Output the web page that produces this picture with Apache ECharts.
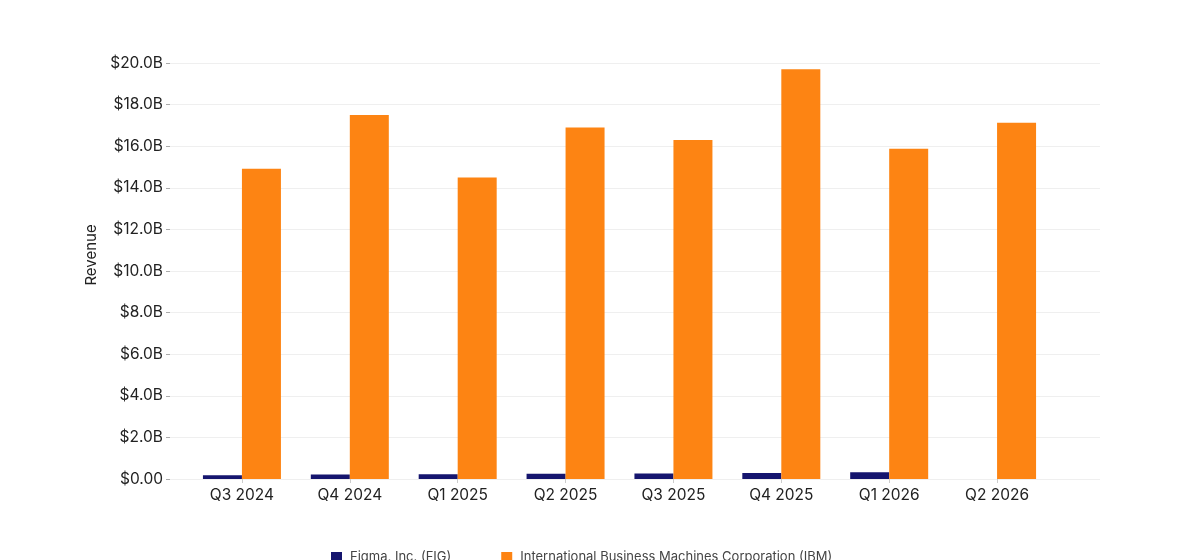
<!DOCTYPE html>
<html>
<head>
<meta charset="utf-8">
<script src="https://cdn.jsdelivr.net/npm/echarts@6/dist/echarts.min.js"></script>
<style>
  html, body { margin: 0; padding: 0; background: #fff; }
  #chart { width: 1200px; height: 560px; }
</style>
</head>
<body>
<div id="chart"></div>
<script>
// quarters on the x axis
var quarters = ['Q3 2024', 'Q4 2024', 'Q1 2025', 'Q2 2025', 'Q3 2025', 'Q4 2025', 'Q1 2026', 'Q2 2026'];
// revenue in billions of dollars
var figmaRevenue = [0.18, 0.22, 0.23, 0.25, 0.27, 0.29, 0.32, null];
var ibmRevenue = [14.92, 17.5, 14.5, 16.9, 16.3, 19.7, 15.88, 17.13];
var seriesNames = ['Figma, Inc. (FIG)', 'International Business Machines Corporation (IBM)'];

var FONT = 'Inter, "Noto Sans", sans-serif';

function fmtMoney(v) {
    if (v === 0) return '$0.00';
    return '$' + v.toFixed(1) + 'B';
}

var chart = echarts.init(document.getElementById('chart'));
chart.setOption({
    backgroundColor: '#fff',
    textStyle: { fontFamily: FONT },
    legend: {
        data: seriesNames,
        bottom: -9,
        left: 326,
        itemWidth: 11,
        itemHeight: 11,
        itemGap: 50,
        icon: 'rect',
        textStyle: { fontFamily: FONT, fontSize: 13, color: '#444', padding: [0, 0, 0, 3] }
    },
    // grid 0 carries the wide gridlines and y labels, grid 1 carries the bars
    grid: [
        { left: 170, right: 100, top: 63, bottom: 81 },
        { left: 188, right: 149, top: 63, bottom: 81 }
    ],
    xAxis: [
        { gridIndex: 0, type: 'category', data: quarters, show: false },
        {
            gridIndex: 1,
            type: 'category',
            data: quarters,
            axisLine: { show: false },
            axisTick: { show: true, alignWithLabel: true, length: 4, lineStyle: { color: '#ccc' } },
            axisLabel: { color: '#222', fontSize: 15.5, margin: 8, fontFamily: FONT }
        }
    ],
    yAxis: [
        {
            gridIndex: 0,
            type: 'value',
            min: 0,
            max: 20,
            interval: 2,
            name: 'Revenue',
            nameLocation: 'middle',
            nameGap: 69,
            nameTextStyle: { color: '#222', fontSize: 15, fontFamily: FONT, padding: [0, 0, 0, 32] },
            axisLine: { show: false },
            axisTick: { show: true, length: 4, lineStyle: { color: '#aaa' } },
            axisLabel: { color: '#222', fontSize: 15.5, margin: 7, fontFamily: FONT, formatter: fmtMoney },
            splitLine: { lineStyle: { color: '#efefef', width: 1 } }
        },
        {
            gridIndex: 1,
            type: 'value',
            min: 0,
            max: 20,
            interval: 2,
            show: false,
            splitLine: { show: false }
        }
    ],
    series: [
        {
            name: seriesNames[0],
            type: 'bar',
            xAxisIndex: 1,
            yAxisIndex: 1,
            data: figmaRevenue,
            barWidth: 39,
            barGap: '0%',
            itemStyle: { color: '#15156e' }
        },
        {
            name: seriesNames[1],
            type: 'bar',
            xAxisIndex: 1,
            yAxisIndex: 1,
            data: ibmRevenue,
            barWidth: 39,
            barGap: '0%',
            itemStyle: { color: '#fd8413' }
        }
    ]
});
</script>
</body>
</html>
